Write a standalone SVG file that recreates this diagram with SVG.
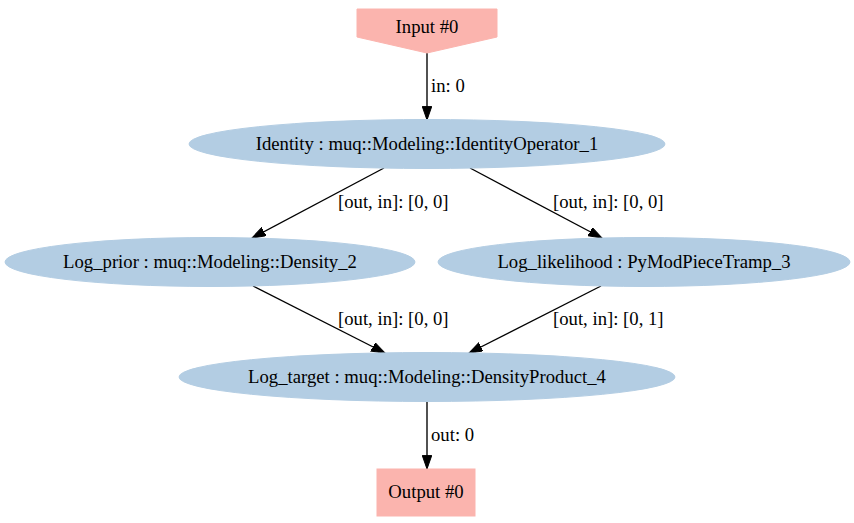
<svg xmlns="http://www.w3.org/2000/svg" width="854" height="523" viewBox="0 0 854 523">
<defs>
<style>
text{font-family:"Liberation Serif","Times New Roman",serif;font-size:18.7px;fill:#000}
.n{text-anchor:middle}
.pink{fill:#fbb4ae;stroke:#fbb4ae}
.blue{fill:#b3cde3;stroke:#b3cde3}
.e{stroke:#000;stroke-width:1.36;fill:none;marker-end:url(#arr)}
</style>
<marker id="arr" markerUnits="userSpaceOnUse" markerWidth="14" markerHeight="10" refX="13.6" refY="4.75" orient="auto" viewBox="0 0 14 10">
<path d="M0,0 L13.6,4.75 L0,9.5 z" fill="#000" stroke="#000" stroke-width="1"/>
</marker>
</defs>
<rect width="854" height="523" fill="#fff"/>
<g id="edges">
<path class="e" d="M427,53 L427,120"/>
<text x="431" y="92">in: 0</text>
<path class="e" d="M384,168 L252,238"/>
<text x="338" y="208">[out, in]: [0, 0]</text>
<path class="e" d="M470,168 L602,238"/>
<text x="553" y="208">[out, in]: [0, 0]</text>
<path class="e" d="M253,286 L385,353"/>
<text x="338" y="325">[out, in]: [0, 0]</text>
<path class="e" d="M601,286 L469,353"/>
<text x="553" y="325">[out, in]: [0, 1]</text>
<path class="e" d="M427,401 L427,469"/>
<text x="431" y="441">out: 0</text>
</g>
<g id="input0">
<polygon class="pink" points="357,9 497,9 497,37 427,53 357,37"/>
<text class="n" x="427" y="33">Input #0</text>
</g>
<g id="identity">
<ellipse class="blue" cx="427" cy="144" rx="238" ry="24.5"/>
<text class="n" x="427" y="150">Identity : muq::Modeling::IdentityOperator_1</text>
</g>
<g id="log_prior">
<ellipse class="blue" cx="210" cy="262" rx="205" ry="24.5"/>
<text class="n" x="210" y="268">Log_prior : muq::Modeling::Density_2</text>
</g>
<g id="log_likelihood">
<ellipse class="blue" cx="644" cy="262" rx="206" ry="24.5"/>
<text class="n" x="644" y="268">Log_likelihood : PyModPieceTramp_3</text>
</g>
<g id="log_target">
<ellipse class="blue" cx="427" cy="377" rx="248" ry="24.5"/>
<text class="n" x="427" y="383">Log_target : muq::Modeling::DensityProduct_4</text>
</g>
<g id="output0">
<rect class="pink" x="377" y="469" width="98" height="47"/>
<text class="n" x="426" y="498">Output #0</text>
</g>
</svg>
